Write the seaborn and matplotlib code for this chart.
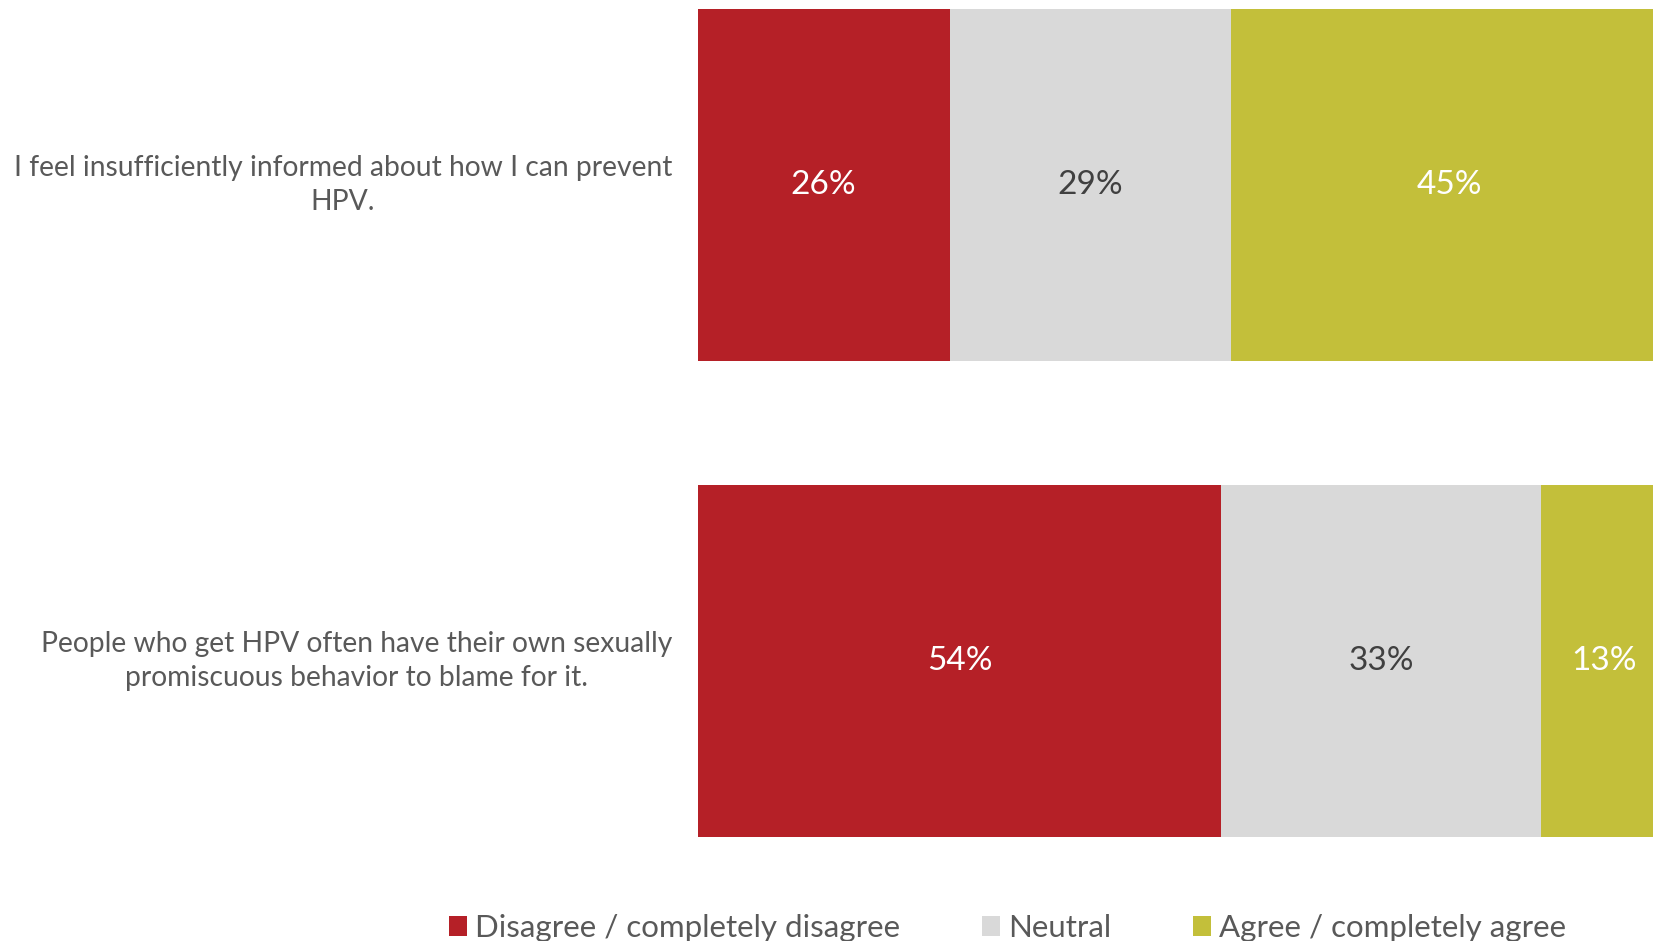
import matplotlib
matplotlib.use("Agg")
import matplotlib.pyplot as plt
import seaborn as sns
import pandas as pd
import numpy as np
from matplotlib.patches import Patch

statements = [
    "I feel insufficiently informed about how I can prevent\nHPV.",
    "People who get HPV often have their own sexually\npromiscuous behavior to blame for it.",
]
responses = ["Disagree / completely disagree", "Neutral", "Agree / completely agree"]
disagree = [26, 54]
neutral = [29, 33]
agree = [45, 13]

colors = ["#B52027", "#D9D9D9", "#C3BF3A"]
value_colors = ["white", "#404040", "white"]

sns.set_theme(style="white")
plt.rcParams["font.family"] = ["Lato", "DejaVu Sans"]

df = pd.DataFrame({
    "statement": statements,
    "disagree": disagree,
    "neutral": neutral,
    "agree": agree,
})
df["cum_disagree"] = df["disagree"]
df["cum_neutral"] = df["disagree"] + df["neutral"]
df["cum_agree"] = df["disagree"] + df["neutral"] + df["agree"]

fig = plt.figure(figsize=(16.53, 9.41), dpi=100)
ax = fig.add_axes([697.5 / 1653, 0, 1 - 697.5 / 1653, 1])

# stacked bars: draw cumulative totals back to front
for col, color in zip(["cum_agree", "cum_neutral", "cum_disagree"], colors[::-1]):
    sns.barplot(data=df, x=col, y="statement", color=color, orient="h",
                width=0.74, saturation=1, ax=ax, linewidth=0)

ax.set_xlim(0, 98.5)
ax.set_ylim(1.589, -0.388)

# value labels centred in each segment
parts = [df["disagree"].to_numpy(), df["neutral"].to_numpy(), df["agree"].to_numpy()]
starts = np.zeros(len(df))
for vals, tc in zip(parts, value_colors):
    for i, v in enumerate(vals):
        ax.text(starts[i] + v / 2, i, f"{v}%", ha="center", va="center",
                color=tc, fontsize=24)
    starts = starts + vals

ax.set_xlabel("")
ax.set_ylabel("")
ax.set_xticks([])
ax.set_yticks([])
for s in ax.spines.values():
    s.set_visible(False)

# statement labels to the left of the bars
for i, s in enumerate(statements):
    ax.text(-2.6, i, s, ha="right", va="center", multialignment="center",
            color="#595959", fontsize=20.3, linespacing=1.38,
            transform=ax.transData, clip_on=False)

handles = [Patch(facecolor=c, edgecolor="none") for c in colors]
fig.legend(handles, responses, loc="center", bbox_to_anchor=(0.6095, 0.014),
           ncol=3, frameon=False, fontsize=22.5, handlelength=0.6, handleheight=0.6,
           handletextpad=0.25, columnspacing=2.6, labelcolor="#595959")

fig.savefig("out.png", dpi=100)
